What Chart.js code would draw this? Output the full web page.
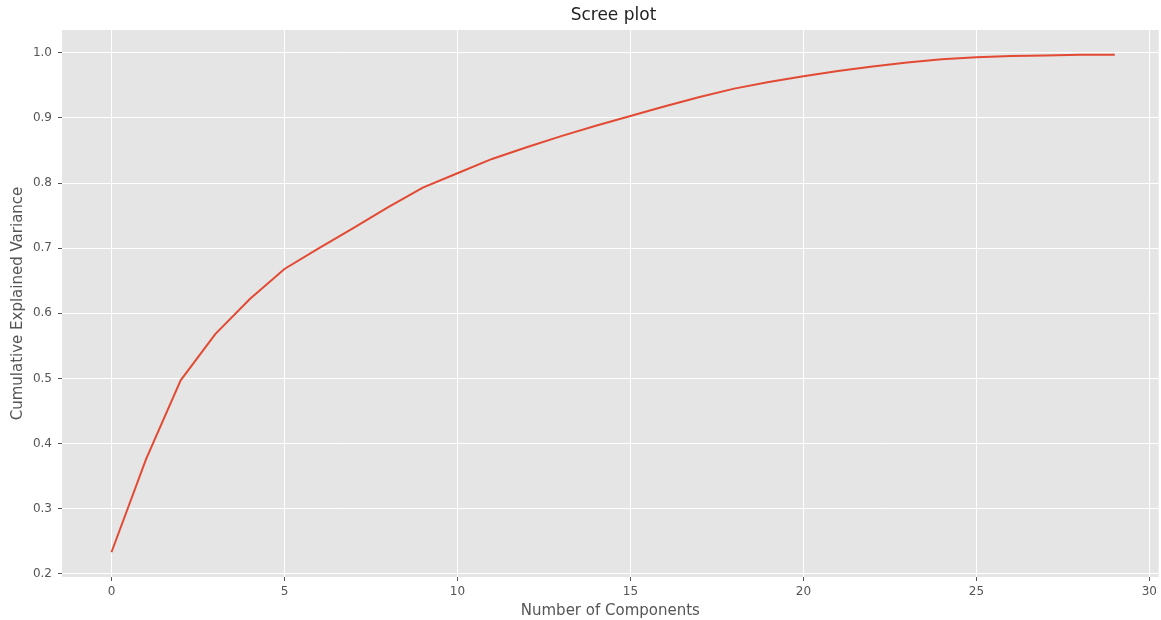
<!DOCTYPE html>
<html>
<head>
<meta charset="utf-8">
<script src="https://cdn.jsdelivr.net/npm/chart.js@4/dist/chart.umd.min.js"></script>
<style>
  body { margin: 0; background: #fff; }
  canvas { display: block; }
</style>
</head>
<body>
<canvas id="scree" width="1161" height="620"></canvas>
<script>
// values
var components = [0, 1, 2, 3, 4, 5, 6, 7, 8, 9, 10, 11, 12, 13, 14, 15, 16, 17, 18, 19, 20, 21, 22, 23, 24, 25, 26, 27, 28, 29];
var cumVariance = [0.233, 0.376, 0.497, 0.568, 0.622, 0.668, 0.700, 0.731, 0.763, 0.793, 0.815, 0.837, 0.855, 0.872, 0.888, 0.903, 0.918, 0.932, 0.945, 0.955, 0.964, 0.972, 0.979, 0.985, 0.990, 0.993, 0.995, 0.996, 0.997, 0.997];
var xTicks = [0, 5, 10, 15, 20, 25, 30];
var yTicks = [0.2, 0.3, 0.4, 0.5, 0.6, 0.7, 0.8, 0.9, 1.0];
var titleText = 'Scree plot';

var pts = [];
for (var i = 0; i < components.length; i++) {
  pts.push({x: components[i], y: cumVariance[i]});
}

var FONT = '"DejaVu Sans", sans-serif';
// the original axes run a bit past the right edge of the picture (it was cropped)
var X_MIN = -1.43, X_SHOWN_MAX = 30.27, X_FULL_MAX = 30.45;

// grey panel behind the plot, like ggplot style
var panelBg = {
  id: 'panelBg',
  beforeDraw: function(chart) {
    var a = chart.chartArea;
    var ctx = chart.ctx;
    ctx.save();
    ctx.fillStyle = '#e5e5e5';
    ctx.fillRect(a.left, a.top, a.right - a.left, a.bottom - a.top);
    ctx.restore();
  }
};

// title centred over the full (uncropped) axes
var panelTitle = {
  id: 'panelTitle',
  afterDraw: function(chart) {
    var cx = chart.scales.x.getPixelForValue((X_MIN + X_FULL_MAX) / 2);
    var ctx = chart.ctx;
    ctx.save();
    ctx.font = '17px ' + FONT;
    ctx.fillStyle = '#222';
    ctx.textAlign = 'center';
    ctx.textBaseline = 'middle';
    ctx.fillText(titleText, cx, 16);
    ctx.restore();
  }
};

var ctx = document.getElementById('scree').getContext('2d');
var myChart = new Chart(ctx, {
  type: 'line',
  data: {
    datasets: [{
      label: 'cumulative',
      data: pts,
      borderColor: '#e24a33',
      borderWidth: 2,
      pointRadius: 0,
      tension: 0,
      fill: false
    }]
  },
  options: {
    responsive: false,
    animation: false,
    devicePixelRatio: 1,
    layout: { padding: { top: 30, right: 0, left: 0, bottom: 0 } },
    plugins: {
      legend: { display: false },
      title: { display: false },
      tooltip: { enabled: false }
    },
    scales: {
      x: {
        type: 'linear',
        min: X_MIN,
        max: X_SHOWN_MAX,
        afterFit: function(s) { s.height = 43; },
        afterBuildTicks: function(s) {
          s.ticks = xTicks.map(function(v) { return {value: v}; });
        },
        border: { display: false },
        grid: { color: '#ffffff', lineWidth: 1, drawTicks: true, tickLength: 4, tickColor: '#555' },
        ticks: {
          color: '#555',
          font: { family: FONT, size: 12 },
          padding: 4,
          maxRotation: 0,
          callback: function(v) { return String(v); }
        },
        title: {
          display: true,
          text: 'Number of Components',
          color: '#555',
          font: { family: FONT, size: 15 },
          padding: { top: 0, bottom: 0 }
        }
      },
      y: {
        type: 'linear',
        min: 0.195,
        max: 1.035,
        afterFit: function(s) { s.width = 62; },
        afterBuildTicks: function(s) {
          s.ticks = yTicks.map(function(v) { return {value: v}; });
        },
        border: { display: false },
        grid: { color: '#ffffff', lineWidth: 1, drawTicks: true, tickLength: 4, tickColor: '#555' },
        ticks: {
          color: '#555',
          font: { family: FONT, size: 12 },
          padding: 6,
          callback: function(v) { return v.toFixed(1); }
        },
        title: {
          display: true,
          text: 'Cumulative Explained Variance',
          color: '#555',
          font: { family: FONT, size: 15 },
          padding: { top: 9, bottom: 0 }
        }
      }
    }
  },
  plugins: [panelBg, panelTitle]
});
</script>
</body>
</html>
